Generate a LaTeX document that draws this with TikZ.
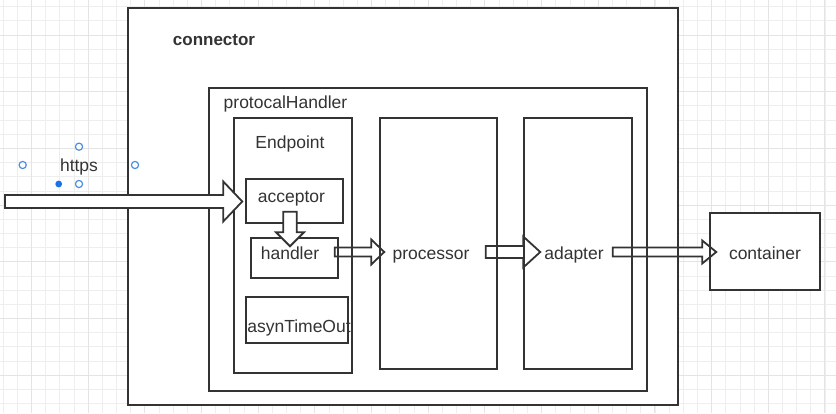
\documentclass[tikz,border=0pt]{standalone}
\usepackage{fontspec}
\setmainfont{Liberation Sans}
\usetikzlibrary{calc}

\definecolor{ink}{HTML}{333333}
\definecolor{gridline}{HTML}{EEEEEE}
\definecolor{gridmajor}{HTML}{E4E4E4}
\definecolor{handle}{HTML}{4A90E2}
\definecolor{handlefill}{HTML}{1A73E8}

\pgfdeclarelayer{back}
\pgfdeclarelayer{mid}
\pgfsetlayers{back,mid,main}

\tikzset{
  box/.style={draw=ink, line width=1.5pt, inner sep=0pt},
  lbl/.style={text=ink, font=\fontsize{17.5}{20}\selectfont, inner sep=0pt,
    text height=12.5pt, text depth=3.7pt, yshift=-2pt},
  fatarrow/.style={draw=ink, fill=white, line width=1.8pt, line join=miter},
  grab/.style={draw=handle, fill=white, line width=1.2pt}
}

% block arrow: start, tip, half shaft, half head, head length
\newcommand{\fatarrow}[5]{%
  \coordinate (fas) at (#1);
  \coordinate (fae) at (#2);
  \coordinate (fab) at ($(fae)!#5!(fas)$);
  \draw[fatarrow] ($(fas)!#3!90:(fae)$) -- ($(fab)!#3!90:(fae)$)
    -- ($(fab)!#4!90:(fae)$) -- (fae) -- ($(fab)!#4!-90:(fae)$)
    -- ($(fab)!#3!-90:(fae)$) -- ($(fas)!#3!-90:(fae)$) -- cycle;
}

\begin{document}
\begin{tikzpicture}[x=1pt, y=-1pt]
  \useasboundingbox (0,0) rectangle (836,413);

  % boxes
  \node[box, minimum width=550pt, minimum height=397pt] (connector) at (403,206.5) {};
  \node[box, minimum width=438pt, minimum height=303pt] (handlerbox) at (428,239.5) {};
  \node[box, minimum width=118pt, minimum height=255pt] (endpoint) at (293,245.5) {};
  \node[box, minimum width=97pt, minimum height=44pt] (acceptor) at (294.5,201) {};
  \node[box, minimum width=87pt, minimum height=40pt] (handler) at (294.5,258) {};
  \node[box, minimum width=102pt, minimum height=46pt] (asyn) at (297,320) {};
  \node[box, minimum width=117pt, minimum height=251pt] (processor) at (438.5,243.5) {};
  \node[box, minimum width=108pt, minimum height=251pt] (adapter) at (578,243.5) {};
  \node[box, minimum width=110pt, minimum height=77pt] (container) at (765,251.5) {};

  % grid and white ground
  \begin{pgfonlayer}{back}
    \foreach \i in {0,...,58}
      \draw[gridline, line width=0.8pt] ({3.1+\i*14.17},0) -- ++(0,413);
    \foreach \i in {0,...,29}
      \draw[gridline, line width=0.8pt] (0,{6.7+\i*14.17}) -- ++(836,0);
    \foreach \i in {0,...,14}
      \draw[gridmajor, line width=0.9pt] ({31.4+\i*56.68},0) -- ++(0,413);
    \foreach \i in {0,...,7}
      \draw[gridmajor, line width=0.9pt] (0,{35+\i*56.68}) -- ++(836,0);
    \fill[white] (connector.north west) rectangle (connector.south east);
    \fill[white] (container.north west) rectangle (container.south east);
  \end{pgfonlayer}

  % arrows under the boxes
  \begin{pgfonlayer}{mid}
    \fatarrow{$(handler.east)+(-4,-6)$}{$(processor.west)+(5,8.5)$}{4.5pt}{12.5pt}{13pt}
    \fatarrow{$(processor.east)+(-12,8.5)$}{$(adapter.west)+(17,8.5)$}{6pt}{15.5pt}{17pt}
    \fatarrow{$(adapter.east)+(-20,8.5)$}{$(container.west)+(7,0.5)$}{4.5pt}{11.5pt}{14pt}
  \end{pgfonlayer}

  % arrows over the boxes
  \coordinate (in) at (5,201.5);
  \fatarrow{in}{$(acceptor.west)+(-3,0.5)$}{6.5pt}{20pt}{19pt}
  \fatarrow{$(acceptor.south)+(-4.5,-12)$}{$(handler.north)+(-4.5,9)$}{6.7pt}{14pt}{14pt}

  % labels
  \node[lbl, font=\fontsize{17}{20}\selectfont\bfseries] (connectortxt) at (214,39) {connector};
  \node[lbl, anchor=west] (handlertitle) at (223.5,102) {protocalHandler};
  \node[lbl] (endpointtxt) at (290,142) {Endpoint};
  \node[lbl] (acceptortxt) at (291.5,196) {acceptor};
  \node[lbl] (handlertxt) at (290,253) {handler};
  \node[lbl] (asyntxt) at (299,326) {asynTimeOut};
  \node[lbl] (processortxt) at (431,253) {processor};
  \node[lbl] (adaptertxt) at (574,253) {adapter};
  \node[lbl] (containertxt) at (765,253) {container};
  \node[lbl] (https) at (79,165) {https};

  % selection handles
  \foreach \p in {(79,146.7),(22.7,165),(135,165),(79,184)}
    \draw[grab] \p circle (3.6pt);
  \fill[handlefill] (58.7,184) circle (3.4pt);
\end{tikzpicture}
\end{document}
